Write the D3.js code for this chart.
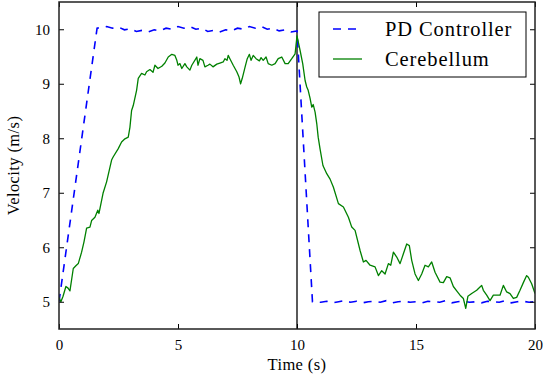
<!DOCTYPE html>
<html>
<head>
<meta charset="utf-8">
<script src="https://cdn.jsdelivr.net/npm/d3@7"></script>
<style>
  body { margin: 0; background: #fff; }
  text { font-family: "Liberation Serif", serif; fill: #000; }
</style>
</head>
<body>
<svg id="chart" width="543" height="381"></svg>
<script>
// series names, ticks
const seriesNames = ["PD Controller", "Cerebellum"];
const xTicks = [0, 5, 10, 15, 20];
const yTicks = [5, 6, 7, 8, 9, 10];
const switchTime = 10;

// PD controller: [time (s), velocity (m/s)]
const pdData = [
  [0, 5.0], [1.6, 10.02],
  [1.75, 10.03], [2.0, 10.05], [2.25, 10.02], [2.5, 10.04], [2.75, 9.99], [3.0, 10.01], [3.25, 9.96],
  [3.5, 9.98], [3.75, 9.95], [4.0, 9.99], [4.25, 9.97], [4.5, 10.02], [4.75, 10.0], [5.0, 10.05],
  [5.25, 10.02], [5.5, 10.05], [5.75, 10.0], [6.0, 10.02], [6.25, 9.96], [6.5, 9.98], [6.75, 9.95],
  [7.0, 9.99], [7.25, 9.97], [7.5, 10.02], [7.75, 10.0], [8.0, 10.05], [8.25, 10.02], [8.5, 10.05],
  [8.75, 10.0], [9.0, 10.02], [9.25, 9.97], [9.5, 9.99], [9.75, 9.95], [10.0, 9.97],
  [10.65, 5.0],
  [10.75, 5.0], [11.0, 4.99], [11.25, 5.01], [11.5, 4.98], [11.75, 5.0], [12.0, 5.02], [12.25, 4.99],
  [12.5, 5.01], [12.75, 4.98], [13.0, 5.0], [13.25, 5.01], [13.5, 4.99], [13.75, 5.02], [14.0, 4.98],
  [14.25, 5.0], [14.5, 5.01], [14.75, 4.99], [15.0, 5.0], [15.25, 4.98], [15.5, 5.01], [15.75, 5.0],
  [16.0, 4.99], [16.25, 5.02], [16.5, 4.98], [16.75, 5.0], [17.0, 5.01], [17.25, 4.99], [17.5, 5.0],
  [17.75, 4.98], [18.0, 5.01], [18.25, 5.0], [18.5, 4.99], [18.75, 5.02], [19.0, 4.98], [19.25, 5.0],
  [19.5, 5.01], [19.75, 4.99], [20.0, 5.0]
];

// Cerebellum: [time (s), velocity (m/s)]
const cerebData = [
  [0.0, 5.08], [0.08, 5.0], [0.17, 5.1], [0.29, 5.28], [0.38, 5.25], [0.46, 5.2], [0.6, 5.61],
  [0.71, 5.66], [0.81, 5.7], [0.95, 5.91], [1.05, 6.1], [1.16, 6.35], [1.3, 6.37], [1.37, 6.49],
  [1.51, 6.55], [1.63, 6.68], [1.68, 6.62], [1.85, 6.99], [2.0, 7.2], [2.21, 7.6], [2.28, 7.66],
  [2.49, 7.81], [2.63, 7.93], [2.77, 7.99], [2.91, 8.02], [2.98, 8.2], [3.05, 8.51], [3.12, 8.6],
  [3.26, 8.88], [3.33, 9.1], [3.47, 9.19], [3.61, 9.16], [3.68, 9.22], [3.82, 9.26], [3.95, 9.21],
  [4.03, 9.34], [4.16, 9.28], [4.32, 9.32], [4.45, 9.38], [4.59, 9.49], [4.74, 9.54], [4.87, 9.52],
  [4.95, 9.43], [5.0, 9.34], [5.08, 9.37], [5.16, 9.28], [5.29, 9.37], [5.37, 9.31], [5.5, 9.25],
  [5.58, 9.34], [5.79, 9.49], [5.84, 9.34], [5.92, 9.46], [6.05, 9.43], [6.13, 9.31], [6.26, 9.34],
  [6.34, 9.36], [6.47, 9.31], [6.63, 9.36], [6.76, 9.38], [6.9, 9.4], [6.97, 9.46], [7.06, 9.43],
  [7.11, 9.52], [7.18, 9.46], [7.32, 9.34], [7.47, 9.22], [7.56, 9.13], [7.63, 9.0], [7.7, 9.1],
  [7.82, 9.31], [7.91, 9.46], [8.0, 9.54], [8.07, 9.43], [8.16, 9.52], [8.28, 9.46], [8.42, 9.42],
  [8.49, 9.48], [8.58, 9.43], [8.7, 9.49], [8.79, 9.37], [8.94, 9.34], [9.08, 9.37], [9.21, 9.46],
  [9.36, 9.49], [9.5, 9.37], [9.63, 9.37], [9.78, 9.46], [9.92, 9.55], [10.0, 9.88], [10.13, 9.61],
  [10.24, 9.37], [10.34, 9.06], [10.41, 8.94], [10.47, 8.88], [10.55, 8.73], [10.62, 8.57],
  [10.68, 8.62], [10.76, 8.48], [10.83, 8.27], [10.89, 8.02], [10.97, 7.8], [11.09, 7.5],
  [11.25, 7.35], [11.39, 7.25], [11.53, 7.1], [11.74, 6.8], [11.95, 6.74], [12.16, 6.55],
  [12.3, 6.37], [12.44, 6.31], [12.65, 5.94], [12.79, 5.73], [12.9, 5.76], [13.07, 5.67],
  [13.28, 5.64], [13.42, 5.48], [13.56, 5.57], [13.7, 5.51], [13.84, 5.7], [13.94, 5.67],
  [14.05, 5.91], [14.19, 5.82], [14.33, 5.7], [14.47, 5.88], [14.61, 6.06], [14.72, 6.03],
  [14.82, 5.76], [14.96, 5.51], [15.1, 5.39], [15.24, 5.51], [15.38, 5.67], [15.52, 5.64],
  [15.66, 5.73], [15.8, 5.54], [16.01, 5.36], [16.15, 5.35], [16.29, 5.46], [16.43, 5.44],
  [16.57, 5.28], [16.71, 5.2], [16.85, 5.12], [16.99, 5.06], [17.09, 4.88], [17.18, 5.1],
  [17.34, 5.15], [17.55, 5.21], [17.69, 5.27], [17.76, 5.3], [17.83, 5.21], [17.97, 5.12],
  [18.11, 5.02], [18.25, 5.12], [18.39, 5.12], [18.53, 5.12], [18.67, 5.3], [18.81, 5.18],
  [18.95, 5.15], [19.09, 5.06], [19.23, 5.08], [19.37, 5.21], [19.52, 5.36], [19.65, 5.48],
  [19.72, 5.45], [19.86, 5.33], [20.0, 5.15]
];

const colors = ["#0000ff", "#008000"];

const svg = d3.select("#chart");
const margin = {left: 59, right: 8, top: 2, bottom: 52};
const width = 543 - margin.left - margin.right,
      height = 381 - margin.top - margin.bottom;

const x = d3.scaleLinear().domain([0, 20]).range([0, width]);
const y = d3.scaleLinear().domain([4.5, 10.5]).range([height, 0]);

const g = svg.append("g").attr("transform", `translate(${margin.left},${margin.top})`);

g.append("clipPath").attr("id", "clip")
    .append("rect").attr("width", width).attr("height", height);

const plot = g.append("g").attr("clip-path", "url(#clip)");

// vertical marker at the switch time
plot.append("line")
    .attr("x1", x(switchTime)).attr("x2", x(switchTime))
    .attr("y1", 0).attr("y2", height)
    .attr("stroke", "#000").attr("stroke-width", 1.3);

const line = d3.line().x(d => x(d[0])).y(d => y(d[1]));

plot.append("path")
    .datum(pdData)
    .attr("d", line)
    .attr("fill", "none")
    .attr("stroke", colors[0])
    .attr("stroke-width", 1.6)
    .attr("stroke-dasharray", "8,7");

plot.append("path")
    .datum(cerebData)
    .attr("d", line)
    .attr("fill", "none")
    .attr("stroke", colors[1])
    .attr("stroke-width", 1.3)
    .attr("stroke-linejoin", "round");

// axes with inward ticks on all four sides
const tickStyle = sel => {
    sel.attr("font-family", null);
    sel.select(".domain").remove();
    sel.selectAll(".tick line").attr("stroke", "#000").attr("stroke-width", 1);
    sel.selectAll("text").attr("font-size", 15).attr("fill", "#000");
};

g.append("g").attr("transform", `translate(0,${height})`)
    .call(d3.axisBottom(x).tickValues(xTicks).tickSizeInner(-5).tickSizeOuter(0).tickPadding(10).tickFormat(d3.format("d")))
    .call(tickStyle);
g.append("g")
    .call(d3.axisTop(x).tickValues(xTicks).tickSizeInner(-5).tickSizeOuter(0).tickFormat(""))
    .call(tickStyle);
g.append("g")
    .call(d3.axisLeft(y).tickValues(yTicks).tickSizeInner(-5).tickSizeOuter(0).tickPadding(9).tickFormat(d3.format("d")))
    .call(tickStyle);
g.append("g").attr("transform", `translate(${width},0)`)
    .call(d3.axisRight(y).tickValues(yTicks).tickSizeInner(-5).tickSizeOuter(0).tickFormat(""))
    .call(tickStyle);

// frame
g.append("rect")
    .attr("width", width).attr("height", height)
    .attr("fill", "none").attr("stroke", "#222").attr("stroke-width", 1.5);

// axis labels
g.append("text")
    .attr("x", width / 2).attr("y", height + 41)
    .attr("text-anchor", "middle").attr("font-size", 16.5)
    .attr("letter-spacing", 0.4)
    .text("Time (s)");
g.append("text")
    .attr("transform", `translate(${-40},${height / 2}) rotate(-90)`)
    .attr("text-anchor", "middle").attr("font-size", 16.5)
    .attr("letter-spacing", 0.4)
    .text("Velocity (m/s)");

// legend
const legend = g.append("g").attr("transform", `translate(${319 - margin.left},${12 - margin.top})`);
legend.append("rect")
    .attr("width", 207).attr("height", 65)
    .attr("fill", "#fff").attr("stroke", "#000").attr("stroke-width", 1);
seriesNames.forEach((name, i) => {
    const ly = 17 + i * 30;
    legend.append("line")
        .attr("x1", 14).attr("x2", 43).attr("y1", ly).attr("y2", ly)
        .attr("stroke", colors[i])
        .attr("stroke-width", i === 0 ? 1.6 : 1.3)
        .attr("stroke-dasharray", i === 0 ? "8,7" : null);
    legend.append("text")
        .attr("x", 66).attr("y", ly + 7)
        .attr("font-size", 20.5)
        .attr("letter-spacing", 0.9)
        .text(name);
});
</script>
</body>
</html>
